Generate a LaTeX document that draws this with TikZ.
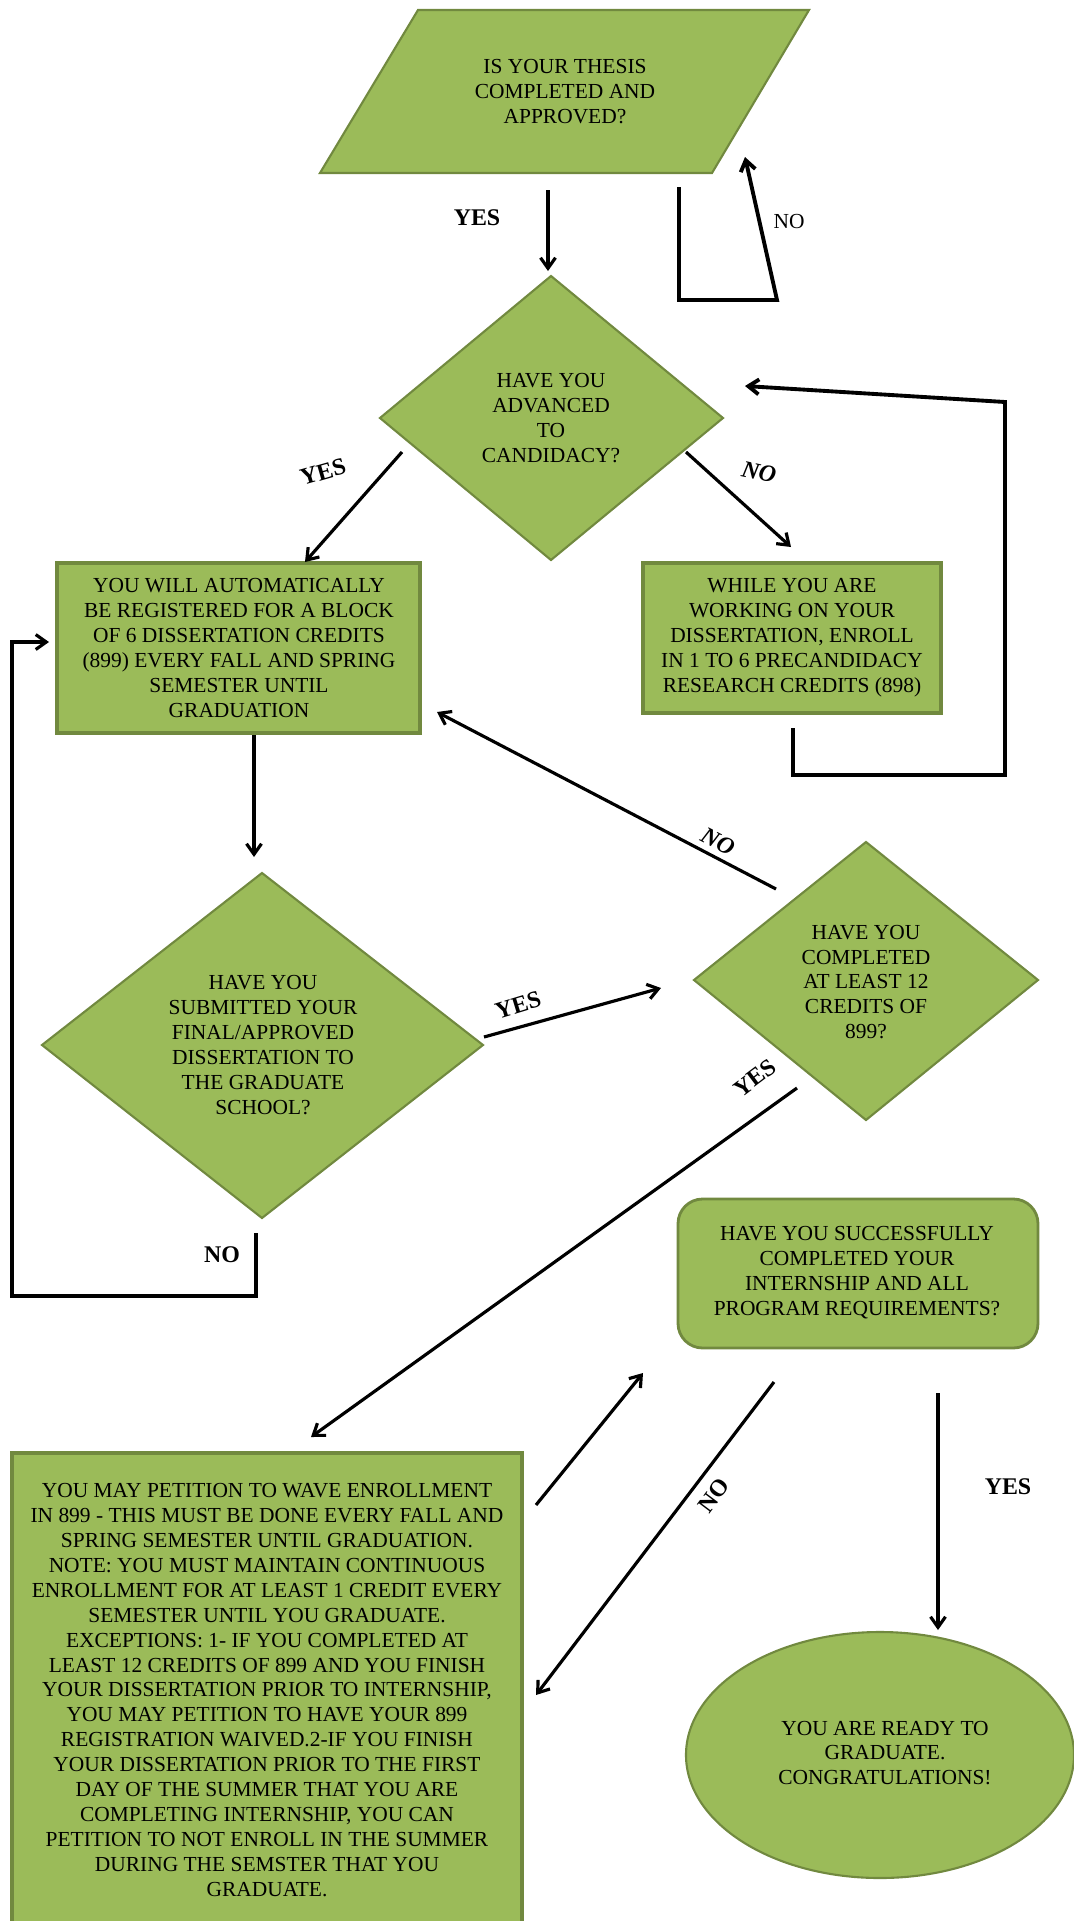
\documentclass[tikz,border=0pt]{standalone}
\usepackage{fontspec}
\setmainfont{Liberation Serif}
\usetikzlibrary{arrows.meta}
\definecolor{gfill}{HTML}{9BBB59}
\definecolor{gline}{HTML}{71893F}
\begin{document}
\begin{tikzpicture}[x=0.02cm,y=-0.02cm,
  gshape/.style={fill=gfill,draw=gline,line width=1.2pt,line join=miter},
  gbox/.style={gshape,line width=2pt},
  txt/.style={align=center,inner sep=0pt,font=\fontsize{12.2}{14.2}\selectfont},
  lbl/.style={inner sep=0pt,font=\fontsize{13.6}{15}\selectfont\bfseries},
  lbli/.style={inner sep=0pt,font=\fontsize{13.6}{15}\selectfont\bfseries\itshape},
  lblr/.style={inner sep=0pt,font=\fontsize{12.2}{14}\selectfont},
  arr/.style={line width=1.8pt,-{Straight Barb[length=6pt,width=8.5pt]}},
  loopline/.style={line width=2.2pt,line join=miter,-{Straight Barb[length=6pt,width=8.5pt]}},
]
\useasboundingbox (0,0) rectangle (1074,1921);
\clip (0,0) rectangle (1074,1921);

% ---------- shapes ----------
\path[gshape] (418,10) -- (809,10) -- (712,173) -- (320,173) -- cycle;
\node[txt] (thesis) at (565,92) {IS YOUR THESIS\\COMPLETED AND\\APPROVED?};

\path[gshape] (551,276) -- (723,418) -- (551,560) -- (380,418) -- cycle;
\node[txt] (cand) at (551,418) {HAVE YOU\\ADVANCED\\TO\\CANDIDACY?};

\path[gbox] (57,563) rectangle (420,733);
\node[txt] (auto) at (239,648) {YOU WILL AUTOMATICALLY\\BE REGISTERED FOR A BLOCK\\OF 6 DISSERTATION CREDITS\\(899) EVERY FALL AND SPRING\\SEMESTER UNTIL\\GRADUATION};

\path[gbox] (643,563) rectangle (941,713);
\node[txt] (while) at (792,638) {WHILE YOU ARE\\WORKING ON YOUR\\DISSERTATION, ENROLL\\IN 1 TO 6 PRECANDIDACY\\RESEARCH CREDITS (898)};

\path[gshape] (262,873) -- (483,1045) -- (262,1218) -- (42,1045) -- cycle;
\node[txt] (submit) at (263,1045) {HAVE YOU\\SUBMITTED YOUR\\FINAL/APPROVED\\DISSERTATION TO\\THE GRADUATE\\SCHOOL?};

\path[gshape] (866,842) -- (1038,980) -- (866,1120) -- (694,980) -- cycle;
\node[txt] (twelve) at (866,982) {HAVE YOU\\COMPLETED\\AT LEAST 12\\CREDITS OF\\899?};

\path[gshape,line width=1.6pt,rounded corners=14pt] (678,1199) rectangle (1038,1348);
\node[txt] (intern) at (857,1273) {HAVE YOU SUCCESSFULLY\\COMPLETED YOUR\\INTERNSHIP AND ALL\\PROGRAM REQUIREMENTS?};

\path[gbox] (12,1453) rectangle (522,1940);
\node[txt] (petition) at (267,1690) {YOU MAY PETITION TO WAVE ENROLLMENT\\IN 899 - THIS MUST BE DONE EVERY FALL AND\\SPRING SEMESTER UNTIL GRADUATION.\\NOTE: YOU MUST MAINTAIN CONTINUOUS\\ENROLLMENT FOR AT LEAST 1 CREDIT EVERY\\SEMESTER UNTIL YOU GRADUATE.\\EXCEPTIONS: 1- IF YOU COMPLETED AT\\LEAST 12 CREDITS OF 899 AND YOU FINISH\\YOUR DISSERTATION PRIOR TO INTERNSHIP,\\YOU MAY PETITION TO HAVE YOUR 899\\REGISTRATION WAIVED.2-IF YOU FINISH\\YOUR DISSERTATION PRIOR TO THE FIRST\\DAY OF THE SUMMER THAT YOU ARE\\COMPLETING INTERNSHIP, YOU CAN\\PETITION TO NOT ENROLL IN THE SUMMER\\DURING THE SEMSTER THAT YOU\\GRADUATE.};

\path[gshape] (880,1755) ellipse [x radius=194, y radius=123];
\node[txt] (ready) at (885,1753) {YOU ARE READY TO\\GRADUATE.\\CONGRATULATIONS!};

% ---------- connector end points ----------
\coordinate (a1s) at (548,190);  \coordinate (a1e) at (548,271);
\coordinate (l1a) at (679,187);  \coordinate (l1b) at (679,300);
\coordinate (l1c) at (777,300);  \coordinate (l1e) at (745,157);
\coordinate (r1a) at (793,728);  \coordinate (r1b) at (793,775);
\coordinate (r1c) at (1005,775); \coordinate (r1d) at (1005,402);
\coordinate (r1e) at (745,386);
\coordinate (cns) at (686,452);  \coordinate (cne) at (791,547);
\coordinate (cys) at (402,452);  \coordinate (cye) at (305,562);
\coordinate (ads) at (254,735);  \coordinate (ade) at (254,857);
\coordinate (l2a) at (256,1233); \coordinate (l2b) at (256,1296);
\coordinate (l2c) at (12,1296);  \coordinate (l2d) at (12,642);
\coordinate (l2e) at (49,642);
\coordinate (sys) at (484,1037); \coordinate (sye) at (661,988);
\coordinate (tns) at (776,889);  \coordinate (tne) at (437,712);
\coordinate (tys) at (797,1088); \coordinate (tye) at (311,1437);
\coordinate (pus) at (536,1505); \coordinate (pue) at (643,1373);
\coordinate (ins) at (774,1382); \coordinate (ine) at (536,1695);
\coordinate (iys) at (938,1393); \coordinate (iye) at (938,1630);

% ---------- connectors ----------
\draw[arr] (a1s) -- (a1e);
\draw[loopline] (l1a) -- (l1b) -- (l1c) -- (l1e);
\draw[loopline] (r1a) -- (r1b) -- (r1c) -- (r1d) -- (r1e);
\draw[arr] (cns) -- (cne);
\draw[arr] (cys) -- (cye);
\draw[arr] (ads) -- (ade);
\draw[loopline,line width=1.8pt] (l2a) -- (l2b) -- (l2c) -- (l2d) -- (l2e);
\draw[arr] (sys) -- (sye);
\draw[arr] (tns) -- (tne);
\draw[arr] (tys) -- (tye);
\draw[arr] (pus) -- (pue);
\draw[arr] (ins) -- (ine);
\draw[arr] (iys) -- (iye);

% ---------- labels ----------
\node[lbl] (yes1) at (477,218) {YES};
\node[lblr] (no1) at (789,222) {NO};
\node[lbli,rotate=-12] (no2) at (759,472) {NO};
\node[lbl,rotate=16] (yes2) at (323,472) {YES};
\node[lbl] (no3) at (222,1255) {NO};
\node[lbl,rotate=17] (yes3) at (518,1005) {YES};
\node[lbli,rotate=-27.6] (no4) at (718,842) {NO};
\node[lbl,rotate=37] (yes4) at (755,1078) {YES};
\node[lbl,rotate=53] (no5) at (714,1495) {NO};
\node[lbl] (yes5) at (1008,1487) {YES};
\end{tikzpicture}
\end{document}
